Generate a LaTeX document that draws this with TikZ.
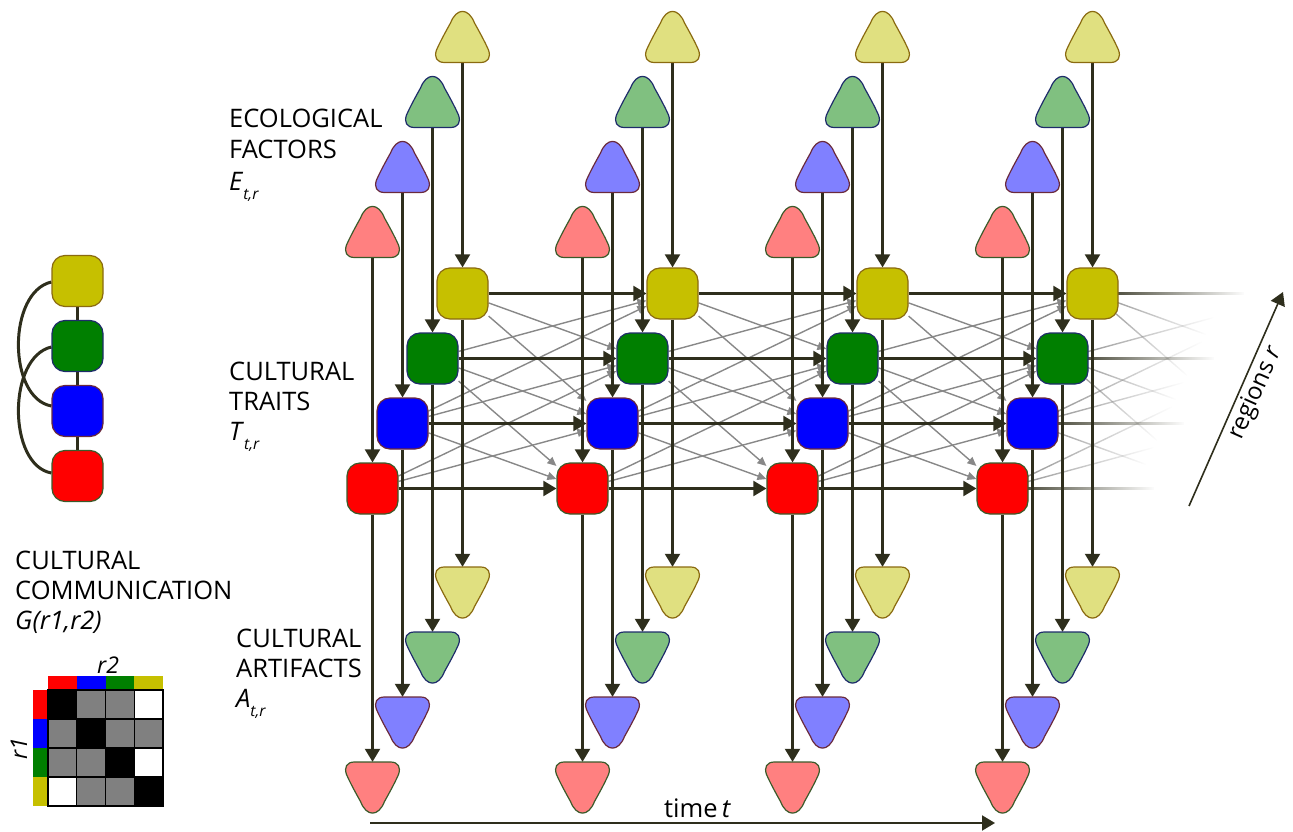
\documentclass[tikz,border=0pt]{standalone}
\usepackage{fontspec}
\setmainfont{Open Sans}
\usetikzlibrary{arrows.meta,calc,fadings}
\pgfdeclarelayer{bg}
\pgfsetlayers{bg,main}
\definecolor{dk}{HTML}{2E2E1C}
\definecolor{gr}{HTML}{888888}
\definecolor{f0}{HTML}{FF0000}
\definecolor{f1}{HTML}{0000FF}
\definecolor{f2}{HTML}{007F00}
\definecolor{f3}{HTML}{C6C000}
\definecolor{l0}{HTML}{FF8080}
\definecolor{l1}{HTML}{8080FF}
\definecolor{l2}{HTML}{80C080}
\definecolor{l3}{HTML}{E0E080}
\definecolor{b0}{HTML}{3B5A2A}
\definecolor{b1}{HTML}{6A2A3C}
\definecolor{b2}{HTML}{1E2C6A}
\definecolor{b3}{HTML}{8A6A10}
\tikzfading[name=myfade, left color=transparent!0, middle color=transparent!15, right color=transparent!100]
\newcommand{\subtr}[1]{\raisebox{-9pt}{\fontsize{15.5}{15.5}\selectfont\textit{#1}}}
\newcommand{\trishape}[3]{%
  \filldraw[fill=l#2, draw=b#2, line width=1.2pt, shift={(#1.center)}, yscale=#3]
    (-18,25.5) -- (18,25.5) .. controls (26,25.5) and (28.5,20) .. (26,13)
    .. controls (22,4) and (17,-5) .. (12,-14)
    .. controls (6,-29.5) and (-6,-29.5) .. (-12,-14)
    .. controls (-17,-5) and (-22,4) .. (-26,13)
    .. controls (-28.5,20) and (-26,25.5) .. (-18,25.5) -- cycle;}
\tikzset{
  trait/.style={rectangle, rounded corners=13pt, minimum width=51pt, minimum height=51pt, inner sep=0pt, line width=1.2pt},
  tribox/.style={rectangle, minimum width=54pt, minimum height=51pt, inner sep=0pt},
  dline/.style={draw=dk, line width=2.1pt, -{Triangle[width=15pt,length=13pt]}},
  gline/.style={draw=gr, line width=1.4pt, -{Triangle[width=8pt,length=9pt]}},
  fdark/.style={draw=dk, line width=2.1pt, path fading=myfade},
  fgray/.style={draw=gr, line width=1.4pt, path fading=myfade},
  leg/.style={draw=dk, line width=3pt},
  lbl/.style={anchor=base west, inner sep=0pt, font=\fontsize{25.5}{27}\selectfont},
  cell/.style={draw=black, line width=1.2pt},
}
\begin{document}
\begin{tikzpicture}[x=1pt,y=-1pt]
\useasboundingbox (0,0) rectangle (1293,832);
% main grid of nodes
\foreach \c in {0,1,2,3}{
  \foreach \k in {0,1,2,3}{
    \pgfmathsetmacro\xx{372.5+210*\c+30*\k}
    \pgfmathsetmacro\yt{488.5-65*\k}
    \pgfmathsetmacro\ye{232-65*\k}
    \pgfmathsetmacro\ya{787.5-65*\k}
    \node[trait, fill=f\k, draw=b\k] (T\c\k) at (\xx,\yt) {};
    \node[tribox] (E\c\k) at (\xx,\ye) {};
    \node[tribox] (A\c\k) at (\xx,\ya) {};
    \trishape{E\c\k}{\k}{1}
    \trishape{A\c\k}{\k}{-1}
  }
}
% virtual next column
\foreach \k in {0,1,2,3}{
  \pgfmathsetmacro\xx{372.5+840+30*\k}
  \pgfmathsetmacro\yt{488.5-65*\k}
  \coordinate (V\k) at (\xx,\yt);
  \coordinate (H\k) at ($(T3\k)+(152,0)$);
}
\begin{pgfonlayer}{bg}
  % gray communication arrows
  \foreach \c/\n in {0/1,1/2,2/3}{
    \foreach \i/\j in {0/1,0/2,1/2,1/3,2/3}{
      \draw[gline] (T\c\i) -- (T\n\j);
      \draw[gline] (T\c\j) -- (T\n\i);
    }
  }
  % fading gray lines from last column
  \foreach \i/\j in {0/1,0/2,1/2,1/3,2/3}{
    \coordinate (G\i\j) at ($(T3\i)!0.63!(V\j)$);
    \coordinate (G\j\i) at ($(T3\j)!0.63!(V\i)$);
    \draw[fgray] (T3\i.center) -- (G\i\j);
    \draw[fgray] (T3\j.center) -- (G\j\i);
  }
  % fading horizontal lines
  \foreach \k in {0,1,2,3}{
    \draw[fdark] (T3\k.center) -- (H\k);
  }
  % dark arrows
  \foreach \c/\n in {0/1,1/2,2/3}{
    \foreach \k in {0,1,2,3}{
      \draw[dline] (T\c\k) -- (T\n\k);
    }
  }
  \foreach \c in {0,1,2,3}{
    \foreach \k in {0,1,2,3}{
      \draw[dline] (E\c\k.south) -- (T\c\k.north);
      \draw[dline] (T\c\k.south) -- (A\c\k.north);
    }
  }
\end{pgfonlayer}
% axes
\coordinate (tA) at (370,823);
\coordinate (tB) at (995,823);
\draw[dline] (tA) -- (tB);
\node[lbl] (tlab) at (664,817) {time\,\textit{t}};
\coordinate (rA) at (1189,506);
\coordinate (rB) at (1283,292);
\draw[dline, line width=1.6pt] (rA) -- (rB);
\node[inner sep=0pt, rotate=66, font=\fontsize{24}{26}\selectfont] (rlab) at (1256,393) {regions \textit{r}};
% labels
\node[lbl] (eco1) at (229,128) {ECOLOGICAL};
\node[lbl] (eco2) at (229,158) {FACTORS};
\node[lbl] (eco3) at (229,190) {\textit{E}\subtr{t,r}};
\node[lbl] (tr1) at (229,380) {CULTURAL};
\node[lbl] (tr2) at (229,410) {TRAITS};
\node[lbl] (tr3) at (229,440) {\textit{T}\subtr{t,r}};
\node[lbl] (ar1) at (236,647) {CULTURAL};
\node[lbl] (ar2) at (236,677) {ARTIFACTS};
\node[lbl] (ar3) at (236,707) {\textit{A}\subtr{t,r}};
\node[lbl] (cc1) at (15,569) {CULTURAL};
\node[lbl] (cc2) at (15,599) {COMMUNICATION};
\node[lbl] (cc3) at (15,629) {\textit{G(r1,r2)}};
% legend graph
\foreach \k in {0,1,2,3}{
  \pgfmathsetmacro\yl{476-65*\k}
  \node[trait, fill=f\k, draw=b\k] (L\k) at (77.5,\yl) {};
}
\begin{pgfonlayer}{bg}
  \draw[leg] (L0) -- (L1);
  \draw[leg] (L1) -- (L2);
  \draw[leg] (L2) -- (L3);
  \draw[leg] ([yshift=-1pt]L3.west) .. controls +(-44,10) and +(-44,-8) .. ([yshift=5pt]L1.west);
  \draw[leg] ([yshift=-1pt]L2.west) .. controls +(-44,10) and +(-44,-8) .. ([yshift=3pt]L0.west);
\end{pgfonlayer}
% matrix
\foreach \i in {0,1,2,3}{
  \fill[f\i] (48+28.75*\i,676) rectangle +(28.75,14);
  \fill[f\i] (33,690+29*\i) rectangle +(15,29);
}
\foreach \r/\row in {0/{black,gray,gray,white},1/{gray,black,gray,gray},2/{gray,gray,black,white},3/{white,gray,gray,black}}{
  \foreach \cl [count=\q from 0] in \row{
    \filldraw[cell, fill=\cl] (48+28.75*\q,690+29*\r) rectangle +(28.75,29);
  }
}
\node[lbl, font=\fontsize{23}{24}\selectfont] (r2lab) at (97,673) {\textit{r2}};
\node[inner sep=0pt, rotate=90, font=\fontsize{23}{24}\selectfont] (r1lab) at (19,749) {\textit{r1}};
\end{tikzpicture}
\end{document}
